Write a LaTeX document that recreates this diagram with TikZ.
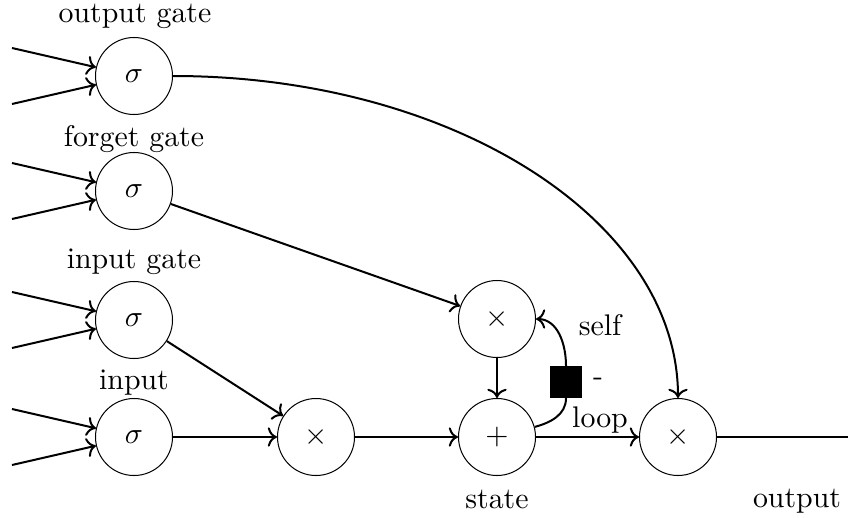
\documentclass[tikz,border=0pt]{standalone}
\usetikzlibrary{arrows.meta}
\begin{document}
\begin{tikzpicture}[x=0.335pt,y=-0.335pt,
  unit/.style={circle,draw,line width=0.34pt,minimum size=25.8pt,inner sep=0pt},
  conn/.style={line width=0.67pt,-To},
  wire/.style={line width=0.67pt},
  lbl/.style={inner sep=0pt,anchor=base}]
\useasboundingbox (0,0) rectangle (848,517);

% gate and cell units
\node[unit] (og) at (134,76)  {$\sigma$};
\node[unit] (fg) at (134,191) {$\sigma$};
\node[unit] (ig) at (134,320) {$\sigma$};
\node[unit] (in) at (134,437) {$\sigma$};
\node[unit] (m1) at (316,437) {$\times$};
\node[unit] (mf) at (497,319) {$\times$};
\node[unit] (st) at (497,437) {$+$};
\node[unit] (mo) at (678,437) {$\times$};
\node[fill=black,minimum size=10.4pt,inner sep=0pt] (dl) at (566,382) {};

% labels
\node[lbl] (lo) at (135,23)  {output gate};
\node[lbl] (lf) at (134,146) {forget gate};
\node[lbl] (li) at (134,268) {input gate};
\node[lbl] (lin) at (134,389) {input};
\node[lbl] (ls) at (497,508) {state};
\node[lbl] (lout) at (797,507) {output};
\node[lbl] (lself) at (600,335) {self};
\node[lbl] (ldash) at (598,385) {-};
\node[lbl] (lloop) at (600,427) {loop};

% incoming connections of the four sigmoid units
\foreach \n/\cy in {og/76,fg/191,ig/320,in/437}{
  \coordinate (\n a) at (12,\cy-28);
  \coordinate (\n b) at (12,\cy+28);
  \draw[conn] (\n a) -- (\n);
  \draw[conn] (\n b) -- (\n);
}

% cell wiring
\draw[conn] (in) -- (m1);
\draw[conn] (ig) -- (m1);
\draw[conn] (m1) -- (st);
\draw[conn] (fg) -- (mf);
\draw[conn] (mf) -- (st);
\draw[conn] (st) -- (mo);
\draw[conn] (og.east) .. controls +(279,0) and +(0,-178) .. (mo.north);
\coordinate (outend) at (848,437);
\draw[wire] (mo) -- (outend);

% self-loop through the delay
\draw[wire] (st.15) to[out=15,in=-90] (dl.south);
\draw[conn] (dl.north) to[out=90,in=0] (mf.east);
\end{tikzpicture}
\end{document}
